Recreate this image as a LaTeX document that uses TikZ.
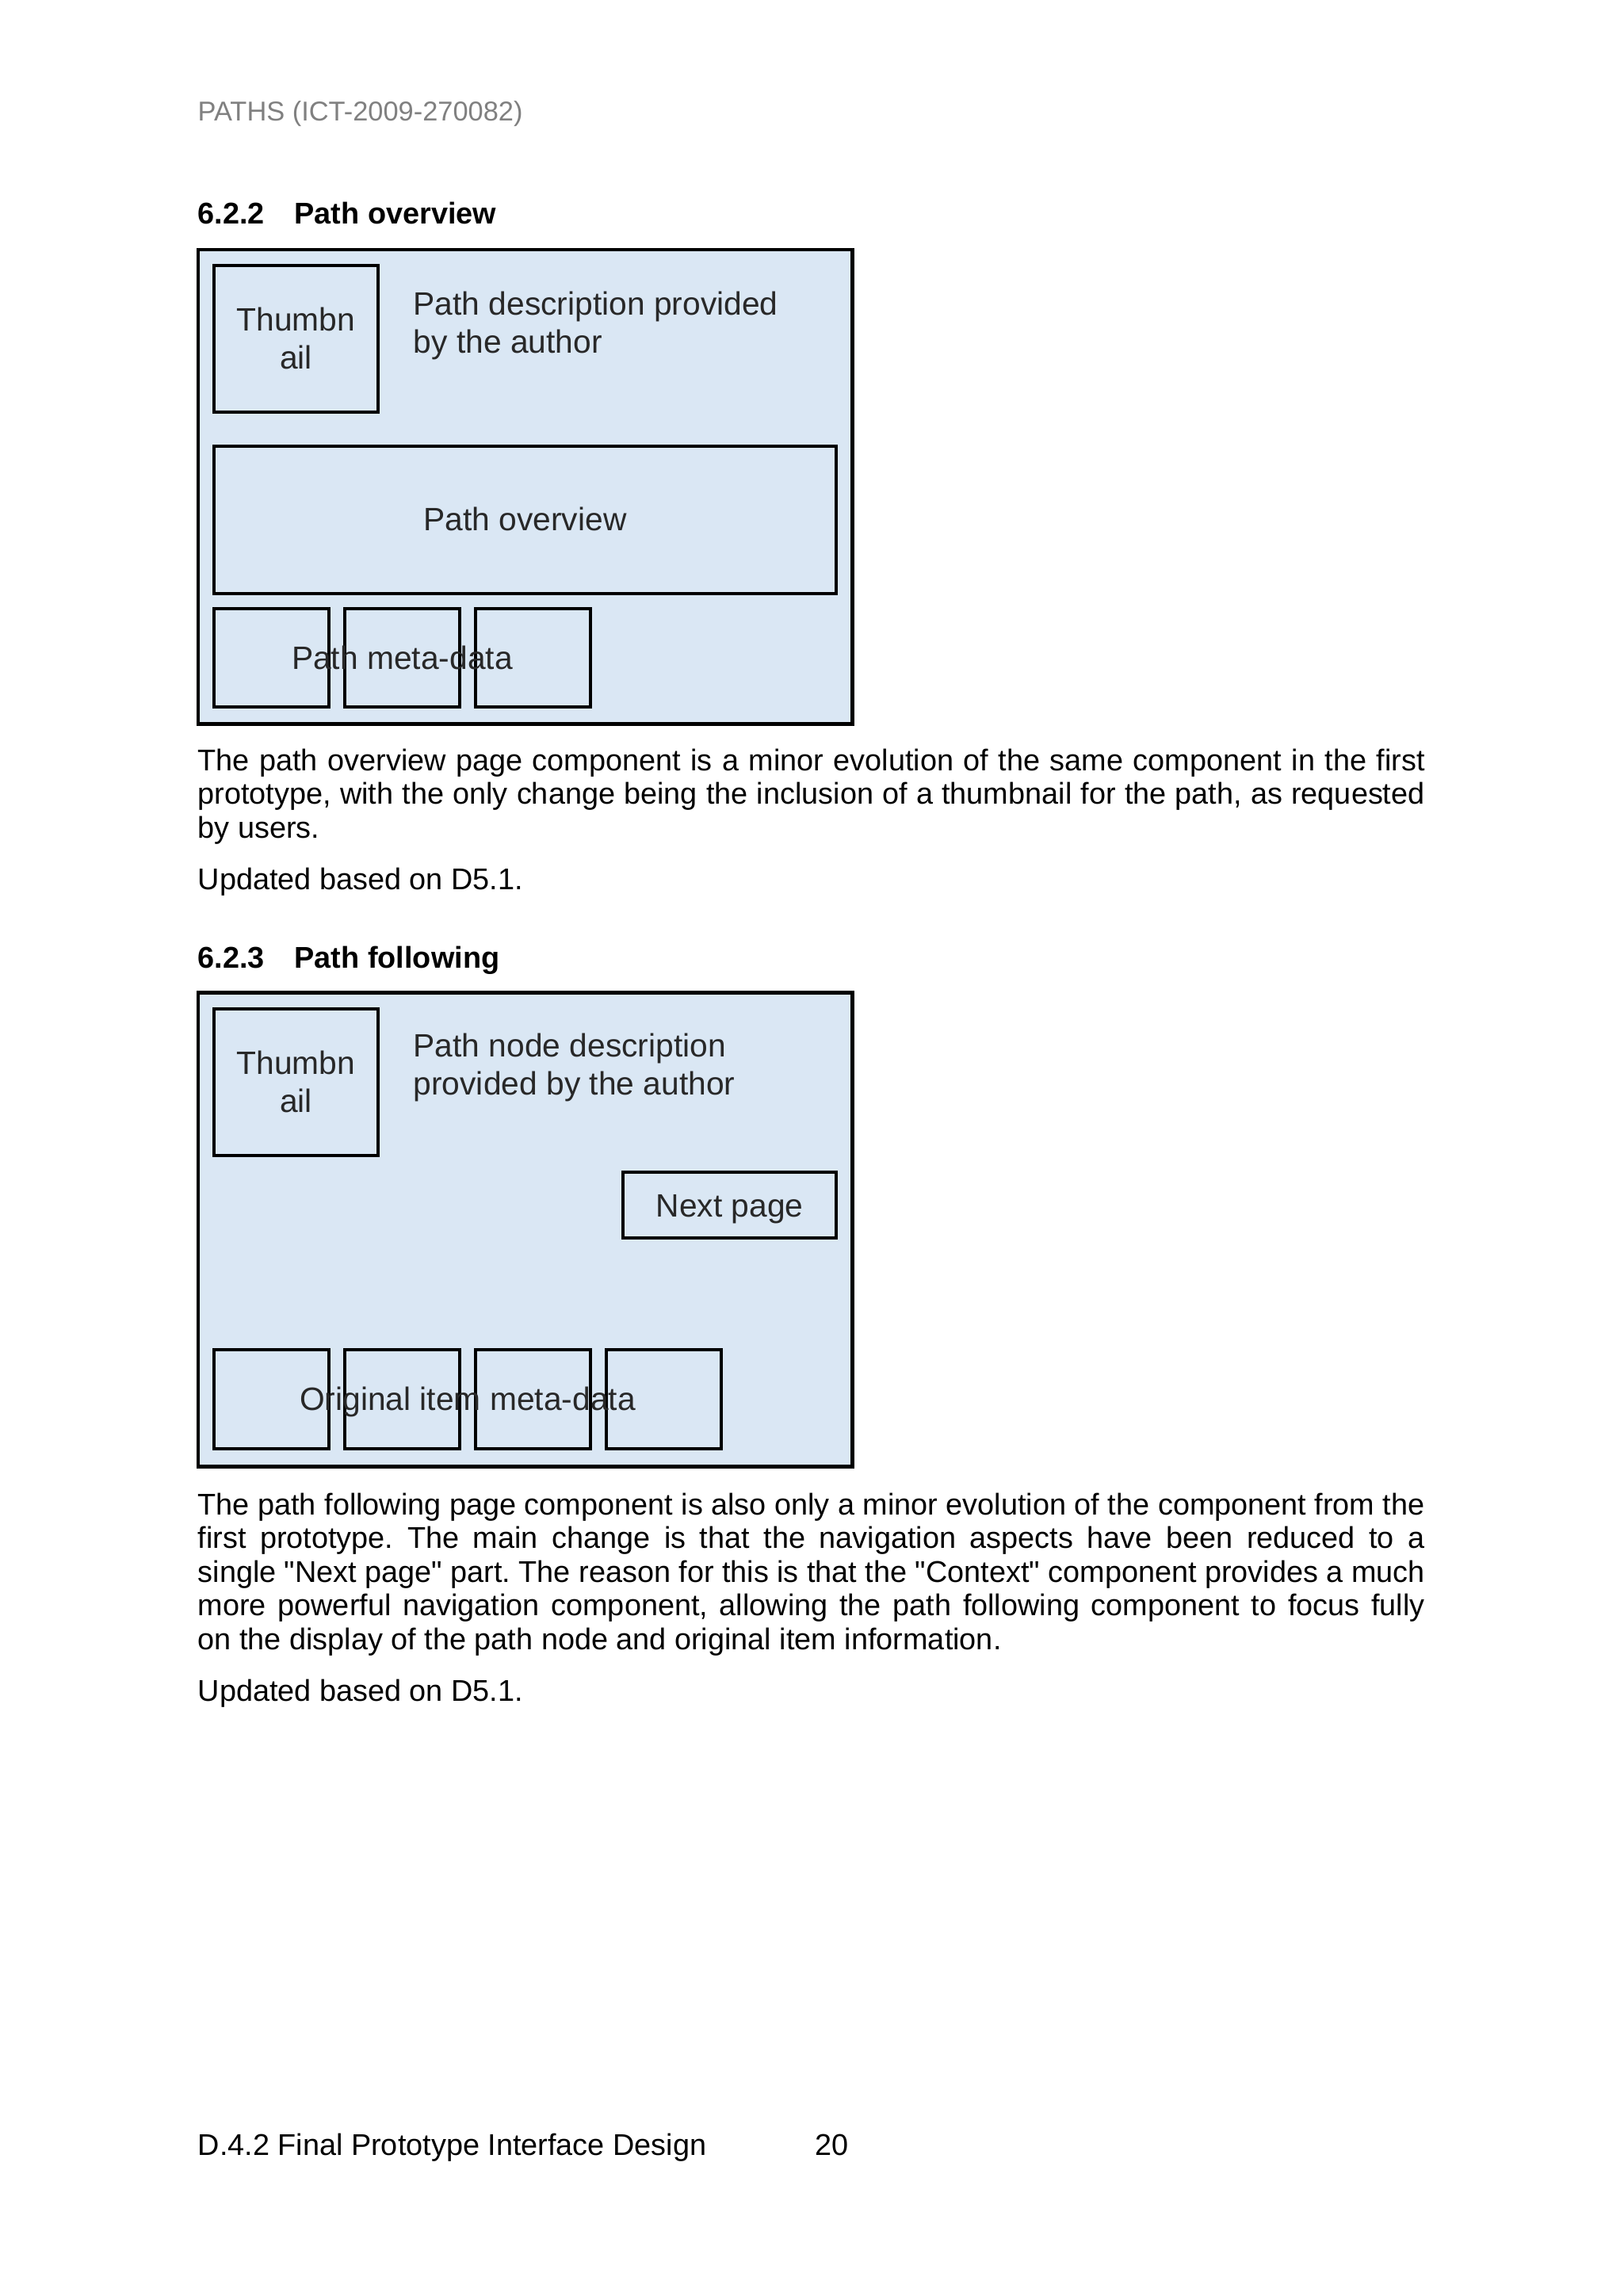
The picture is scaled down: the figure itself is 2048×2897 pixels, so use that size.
\documentclass[tikz,border=0pt]{standalone}
\usepackage{fontspec}
\setmainfont{Liberation Sans}[Ligatures=TeXOff]
\usetikzlibrary{fit}
\definecolor{boxfill}{RGB}{218,231,244}
\definecolor{wiretext}{RGB}{40,40,40}
\definecolor{hdrgray}{RGB}{128,128,128}
\begin{document}
\frenchspacing
\begin{tikzpicture}[x=0.290664pt,y=-0.290664pt,
  outerbox/.style={draw=black, fill=boxfill, line width=1.45pt, inner sep=0pt},
  innerbox/.style={draw=black, fill=boxfill, line width=1.16pt, inner sep=0pt},
  body/.style={anchor=base west, inner sep=0pt, font=\fontsize{11}{13}\selectfont, text=black},
  heading/.style={anchor=base west, inner sep=0pt, font=\fontsize{11}{13}\selectfont\bfseries, text=black},
  hdr/.style={anchor=base west, inner sep=0pt, font=\fontsize{10}{12}\selectfont, text=hdrgray},
  wire/.style={anchor=base, inner sep=0pt, font=\fontsize{11.85}{14}\selectfont, text=wiretext},
  wireleft/.style={wire, anchor=base west}]
\useasboundingbox (0,0) rectangle (2048,2897);
\fill[white] (0,0) rectangle (2048,2897);

% header and headings
\node[hdr] (header) at (249,152) {PATHS (ICT-2009-270082)};
\node[heading] (h1num) at (249,282) {6.2.2};
\node[heading] (h1txt) at (371,282) {Path overview};

% ---- box 1 : path overview
\node[outerbox, fit={(250,315) (1075,913)}] (frame1) {};
\node[innerbox, fit={(270,335) (477,520)}] (thumb1) {};
\node[innerbox, fit={(270,563) (1055,749)}] (ov1) {};
\node[innerbox, fit={(270,768) (415,892)}] (m1a) {};
\node[innerbox, fit={(435,768) (580,892)}] (m1b) {};
\node[innerbox, fit={(600,768) (745,892)}] (m1c) {};
\node[wire] (thumb1a) at (373.5,417) {Thumbn};
\node[wire] (thumb1b) at (373.5,465) {ail};
\node[wireleft] (desc1a) at (521,397) {Path description provided};
\node[wireleft] (desc1b) at (521,445) {by the author};
\node[wire] (ov1t) at (662.5,669) {Path overview};
\node[wire] (meta1t) at (507.5,844) {Path meta-data};

% paragraph 1
\node[body] (p1l1) at (249,972) {\makebox[450pt][s]{The path overview page component is a minor evolution of the same component in the first}};
\node[body] (p1l2) at (249,1014.5) {\makebox[450pt][s]{prototype, with the only change being the inclusion of a thumbnail for the path, as requested}};
\node[body] (p1l3) at (249,1057) {by users.};
\node[body] (p1u) at (249,1122) {Updated based on D5.1.};

\node[heading] (h2num) at (249,1221) {6.2.3};
\node[heading] (h2txt) at (371,1221) {Path following};

% ---- box 2 : path following
\node[outerbox, fit={(250,1252) (1075,1850)}] (frame2) {};
\node[innerbox, fit={(270,1273) (477,1458)}] (thumb2) {};
\node[innerbox, fit={(786,1479) (1055,1562)}] (next2) {};
\node[innerbox, fit={(270,1703) (415,1828)}] (m2a) {};
\node[innerbox, fit={(435,1703) (580,1828)}] (m2b) {};
\node[innerbox, fit={(600,1703) (745,1828)}] (m2c) {};
\node[innerbox, fit={(765,1703) (910,1828)}] (m2d) {};
\node[wire] (thumb2a) at (373.5,1355) {Thumbn};
\node[wire] (thumb2b) at (373.5,1403) {ail};
\node[wireleft] (desc2a) at (521,1333) {Path node description};
\node[wireleft] (desc2b) at (521,1381) {provided by the author};
\node[wire] (next2t) at (920.5,1535) {Next page};
\node[wire] (meta2t) at (590,1779) {Original item meta-data};

% paragraph 2
\node[body] (p2l1) at (249,1911) {\makebox[450pt][s]{The path following page component is also only a minor evolution of the component from the}};
\node[body] (p2l2) at (249,1953.5) {\makebox[450pt][s]{first prototype. The main change is that the navigation aspects have been reduced to a}};
\node[body] (p2l3) at (249,1996) {\makebox[450pt][s]{single "Next page" part. The reason for this is that the "Context" component provides a much}};
\node[body] (p2l4) at (249,2038.5) {\makebox[450pt][s]{more powerful navigation component, allowing the path following component to focus fully}};
\node[body] (p2l5) at (249,2081) {on the display of the path node and original item information.};
\node[body] (p2u) at (249,2146) {Updated based on D5.1.};

% footer
\node[body] (foot) at (249,2719) {D.4.2 Final Prototype Interface Design};
\node[body] (pageno) at (1028,2719) {20};
\end{tikzpicture}
\end{document}
